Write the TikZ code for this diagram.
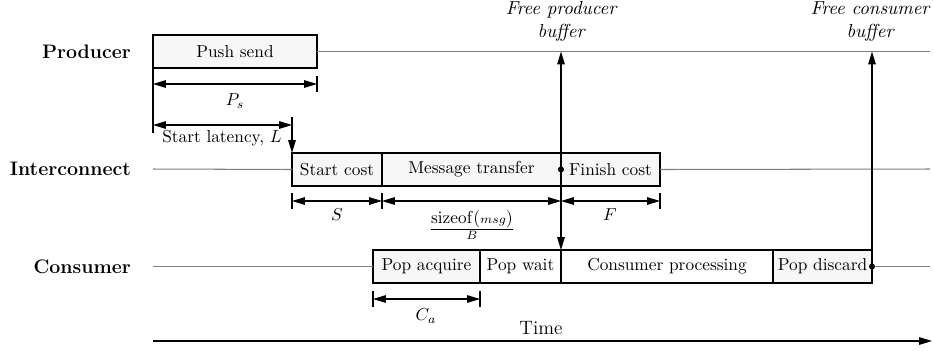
\documentclass[tikz,border=0pt]{standalone}
\usetikzlibrary{arrows.meta}
\newcommand\U{0.578pt}
\begin{document}
\begin{tikzpicture}[x=0.578pt,y=-0.578pt,
  tip/.style={-{Triangle[length=7.5pt,width=4.4pt]}},
  dimline/.style={{Triangle[length=7.5pt,width=4.4pt]}-{Triangle[length=7.5pt,width=4.4pt]}, line width=0.6pt},
  tick/.style={line width=0.6pt},
  box/.style={draw, line width=0.8pt, fill=black!3, minimum height=33*\U, inner sep=0pt, outer sep=0pt, font=\normalsize},
  wbox/.style={box, fill=white},
  rowlabel/.style={anchor=east, font=\fontsize{11.3}{13}\selectfont\bfseries},
  track/.style={draw=black!50, line width=0.6pt},
  event/.style={align=center, font=\fontsize{10.9}{13.3}\selectfont\itshape, anchor=south},
  dot/.style={circle, fill=black, inner sep=0pt, minimum size=3.5pt}]
\useasboundingbox (0,0) rectangle (934,350);

% row labels
\node[rowlabel] (lprod) at (137,51.5) {Producer};
\node[rowlabel] (lint)  at (137,169) {Interconnect};
\node[rowlabel] (lcons) at (137,266.5) {Consumer};

% producer
\node[box, minimum width=164*\U, anchor=north west] (push) at (153,35) {Push send};
\coordinate (pend) at (930,51.5);
\draw[track] (push.east) -- (pend);

% interconnect
\node[box, minimum width=90*\U, anchor=north west] (sc) at (292,153) {Start cost};
\node[box, minimum width=179*\U, anchor=west] (mt) at (sc.east) {Message transfer};
\node[box, minimum width=99*\U, anchor=west] (fc) at (mt.east) {Finish cost};
\coordinate (istart) at (153,169);
\coordinate (iend) at (930,169);
\draw[track] (istart) -- (sc.west);
\draw[track] (fc.east) -- (iend);

% consumer
\node[box, minimum width=107*\U, anchor=north west] (pa) at (373,250) {Pop acquire};
\node[wbox, minimum width=81*\U, anchor=west] (pw) at (pa.east) {Pop wait};
\node[wbox, minimum width=212*\U, anchor=west] (cp) at (pw.east) {Consumer processing};
\node[box, minimum width=99*\U, anchor=west] (pd) at (cp.east) {Pop discard};
\coordinate (cstart) at (153,266.5);
\coordinate (cend) at (930,266.5);
\draw[track] (cstart) -- (pa.west);
\draw[track] (pd.east) -- (cend);

% push send duration
\coordinate (t0) at (153,133);
\draw[tick] (push.south west) -- (t0);
\coordinate (ps0) at (153,84);
\coordinate (ps1) at (317,84);
\draw[tick] (317,76) -- (317,92);
\draw[dimline] (ps0) -- (ps1);
\node (lps) at (235,101) {$P_s$};

% start latency
\coordinate (sl0) at (153,125);
\coordinate (sl1) at (292,125);
\coordinate (sltop) at (292,117);
\draw[dimline] (sl0) -- (sl1);
\draw[tick, tip] (sltop) -- (sc.north west);
\node (lsl) at (222,138) {Start latency, $L$};

% interconnect durations
\coordinate (d0) at (292,201);
\coordinate (d1) at (382,201);
\coordinate (d2) at (561,201);
\coordinate (d3) at (660,201);
\foreach \x in {292,382,660} \draw[tick] (\x,193) -- (\x,209);
\draw[dimline] (d0) -- (d1);
\draw[dimline] (d1) -- (d2);
\draw[dimline] (d2) -- (d3);
\node (ls) at (337,215) {$S$};
\node (lb) at (472,225) {$\frac{\textstyle\mathrm{sizeof}({\scriptstyle msg})}{B}$};
\node (lf) at (610,215) {$F$};

% pop acquire duration
\coordinate (ca0) at (373,299);
\coordinate (ca1) at (480,299);
\foreach \x in {373,480} \draw[tick] (\x,291) -- (\x,307);
\draw[dimline] (ca0) -- (ca1);
\node (lca) at (426,316) {$C_a$};

% buffer release events
\node[dot] (fpd) at (fc.west) {};
\coordinate (fptop) at (561,51.5);
\draw[tick, tip] (fpd.center) -- (fptop);
\draw[tick, tip] (fpd.center) -- (cp.north west);
\node[event] (lfp) at (561,47) {Free producer\\buffer};

\node[dot] (fcd) at (pd.east) {};
\coordinate (fctop) at (872,51.5);
\draw[tick, tip] (fcd.center) -- (fctop);
\node[event] (lfc) at (870,47) {Free consumer\\buffer};

% time axis
\coordinate (tstart) at (153,341);
\coordinate (tend) at (932,341);
\draw[line width=0.6pt, tip] (tstart) -- (tend);
\node (ltime) at (541,328) {\fontsize{11.2}{13}\selectfont Time};
\end{tikzpicture}
\end{document}
